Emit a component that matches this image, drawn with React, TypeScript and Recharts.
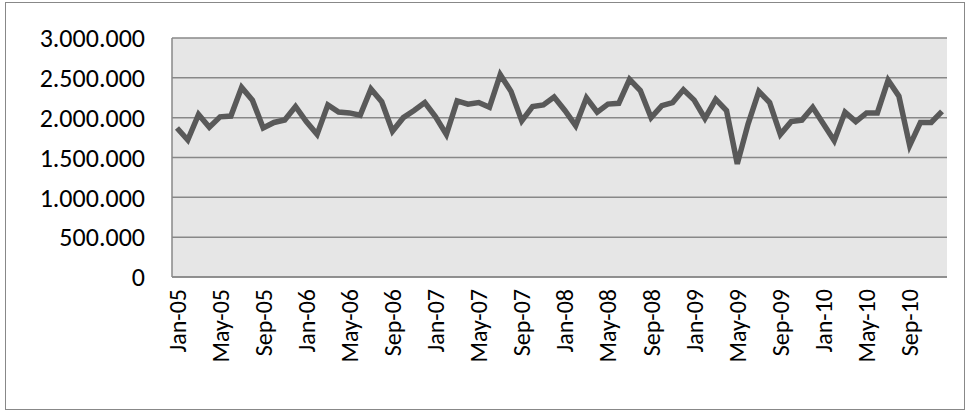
import React from "react";
import { LineChart, Line, XAxis, YAxis, CartesianGrid } from "recharts";

const months = ["Jan","Feb","Mar","Apr","May","Jun","Jul","Aug","Sep","Oct","Nov","Dec"];
const years = ["05","06","07","08","09","10"];
const categories = years.flatMap((y) => months.map((m) => `${m}-${y}`));
const values = [
  1.87,1.72,2.04,1.88,2.01,2.02,2.38,2.22,1.87,1.94,1.97,2.14,
  1.95,1.79,2.16,2.07,2.06,2.03,2.36,2.20,1.83,2.00,2.09,2.19,
  2.01,1.79,2.21,2.17,2.19,2.13,2.54,2.33,1.96,2.14,2.16,2.26,
  2.09,1.90,2.25,2.07,2.17,2.18,2.48,2.34,2.00,2.15,2.19,2.35,
  2.22,1.99,2.23,2.09,1.42,1.92,2.33,2.19,1.79,1.95,1.97,2.13,
  1.92,1.71,2.07,1.95,2.06,2.06,2.47,2.27,1.65,1.94,1.94,2.08,
].map((v) => v * 1000000);
const yTicks = [0, 500000, 1000000, 1500000, 2000000, 2500000, 3000000];
const data = categories.map((c, i) => ({ c, v: values[i] }));

const fmt = (v: number) => v.toLocaleString("de-DE");
const FONT = "Carlito, Calibri, 'Liberation Sans', sans-serif";

const XTick = (props: any) => {
  const { x, y, payload } = props;
  return (
    <text x={x} y={y + 4} transform={`rotate(-90 ${x} ${y + 4})`} textAnchor="end" dominantBaseline="central"
      fontFamily={FONT} fontSize={24} fill="#000">{payload.value}</text>
  );
};

export default function App() {
  return (
    <div style={{ width: 958, height: 406, border: "1px solid #888", position: "absolute", left: 5, top: 2, background: "#fff" }}>
      <LineChart width={958} height={406} data={data} margin={{ top: 35, right: 17, bottom: 0, left: 6 }}>
        <CartesianGrid vertical={false} stroke="#888" strokeWidth={1.5} fill="#e6e6e6" fillOpacity={1} />
        <XAxis dataKey="c" interval={3} tickLine={false} axisLine={{ stroke: "#888", strokeWidth: 1.5 }} tick={<XTick />} height={132} padding={{ left: 5, right: 5 }} />
        <YAxis domain={[0, 3000000]} ticks={yTicks} tickFormatter={fmt} tickLine={false} tickSize={0} tickMargin={27} axisLine={{ stroke: "#888", strokeWidth: 1.5 }}
          width={160} tick={{ fontSize: 26, fill: "#000", fontFamily: FONT }} />
        <Line dataKey="v" stroke="#595959" strokeWidth={5.5} dot={false} isAnimationActive={false} />
      </LineChart>
    </div>
  );
}
